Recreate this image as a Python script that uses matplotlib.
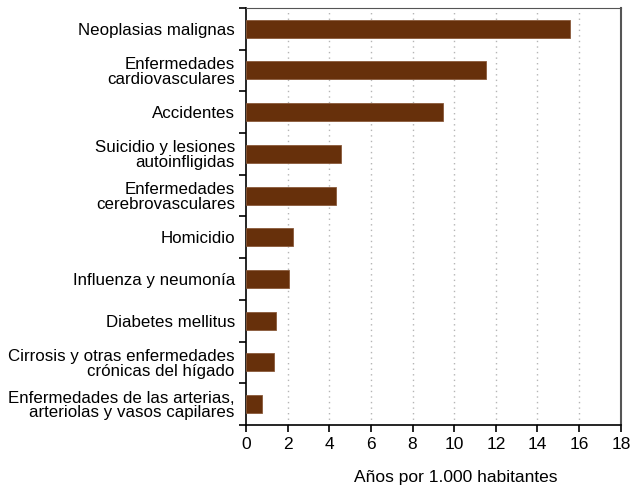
import matplotlib
matplotlib.use("Agg")
import matplotlib.pyplot as plt
import numpy as np

# causes, top to bottom
causes = [
    "Neoplasias malignas",
    "Enfermedades\ncardiovasculares",
    "Accidentes",
    "Suicidio y lesiones\nautoinfligidas",
    "Enfermedades\ncerebrovasculares",
    "Homicidio",
    "Influenza y neumonía",
    "Diabetes mellitus",
    "Cirrosis y otras enfermedades\ncrónicas del hígado",
    "Enfermedades de las arterias,\narteriolas y vasos capilares",
]
years = [15.55, 11.55, 9.45, 4.55, 4.35, 2.25, 2.05, 1.45, 1.35, 0.75]
xticks = [0, 2, 4, 6, 8, 10, 12, 14, 16, 18]

plt.rcParams['font.family'] = ['Liberation Sans', 'DejaVu Sans']

fig = plt.figure(figsize=(6.42, 4.93), dpi=100)
ax = fig.add_axes([0.383, 0.138, 0.584, 0.846])

pos = np.arange(len(causes))
ax.barh(pos, years, height=0.43, color="#67300b", edgecolor="#8a5a3a", linewidth=0.6, zorder=3)

ax.set_ylim(len(causes) - 0.5, -0.5)
ax.set_xlim(0, 18)
ax.set_xticks(xticks)
ax.set_xticklabels([str(t) for t in xticks], fontsize=12.5)
ax.set_yticks(pos)
ax.set_yticklabels(causes, fontsize=12.2, linespacing=0.98)
ax.set_yticks(np.arange(-0.5, len(causes), 1), minor=True)
ax.tick_params(axis='y', which='major', length=0, pad=8)
ax.tick_params(axis='y', which='minor', length=5, width=1.2, direction='out')
ax.tick_params(axis='x', length=5, width=1.2, direction='out', pad=4)

# dotted vertical gridlines
for t in xticks[1:-1]:
    ax.axvline(t, color="#b5b5b5", linestyle=(0, (1, 3)), linewidth=1, zorder=1)

ax.spines['left'].set_color('black')
ax.spines['left'].set_linewidth(1.2)
ax.spines['bottom'].set_color('black')
ax.spines['bottom'].set_linewidth(1.2)
ax.spines['top'].set_color('#555555')
ax.spines['right'].set_color('#555555')
ax.spines['right'].set_linewidth(1.5)

ax.set_xlabel("Años por 1.000 habitantes", fontsize=12.5)
ax.xaxis.set_label_coords(0.56, -0.108)

fig.savefig("out.png", dpi=100)
